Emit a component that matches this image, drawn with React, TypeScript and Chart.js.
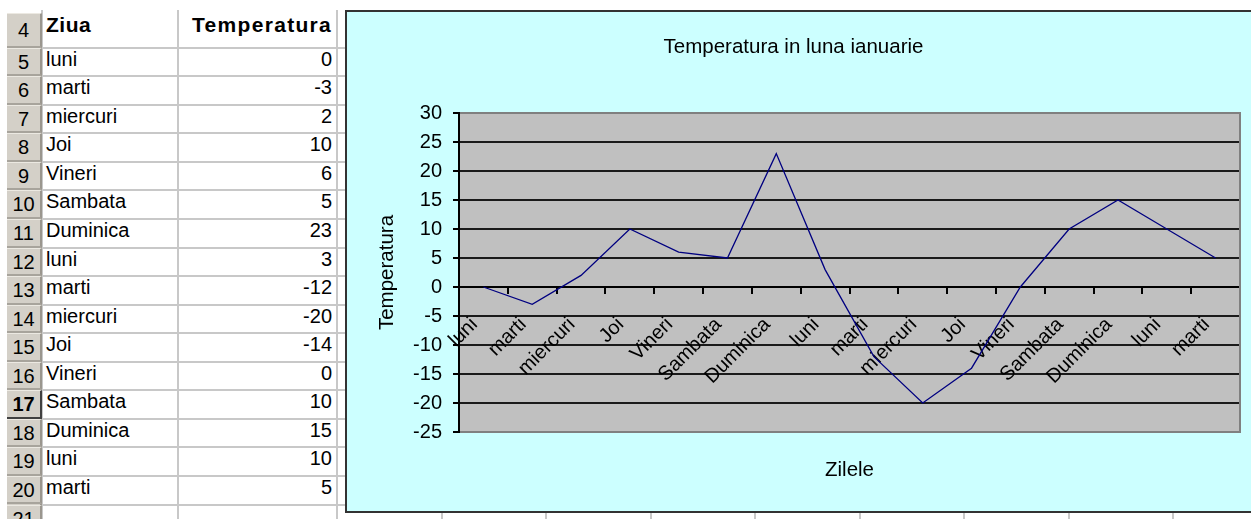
import React, { useEffect, useRef } from 'react';
import { Chart, registerables } from 'chart.js';

Chart.register(...registerables);

// ---- data ----
const days = ['luni', 'marti', 'miercuri', 'Joi', 'Vineri', 'Sambata', 'Duminica', 'luni', 'marti', 'miercuri', 'Joi', 'Vineri', 'Sambata', 'Duminica', 'luni', 'marti'];
const temperatures = [0, -3, 2, 10, 6, 5, 23, 3, -12, -20, -14, 0, 10, 15, 10, 5];
const yMin = -25;
const yMax = 30;
const yStep = 5;
const chartTitle = 'Temperatura in luna ianuarie';
const yAxisTitle = 'Temperatura';
const xAxisTitle = 'Zilele';
const headerDay = 'Ziua';
const headerTemp = 'Temperatura';
const firstRowNumber = 4;
const activeRowNumber = 17;

const FONT = "'Liberation Sans', Arial, sans-serif";

// sheet geometry
const ROW4_TOP = 13.3;
const ROW5_TOP = 47.7;
const ROW_H = 28.55;
const COL_X = [42, 178, 337, 441.5, 546, 650.5, 755, 859.5, 964, 1068.5, 1173];

function Sheet() {
  const rows: { n: number; top: number; h: number }[] = [];
  rows.push({ n: firstRowNumber, top: ROW4_TOP, h: ROW5_TOP - ROW4_TOP });
  for (let i = 0; i <= days.length; i++) {
    rows.push({ n: firstRowNumber + 1 + i, top: ROW5_TOP + i * ROW_H, h: ROW_H });
  }
  const els: React.ReactNode[] = [];
  COL_X.forEach((x, i) => {
    els.push(
      <div key={'v' + i} style={{ position: 'absolute', left: x - 1, top: 10, width: 2, height: 519, background: '#C8C8C8' }} />
    );
  });
  els.push(
    <div key="hc" style={{ position: 'absolute', left: 7, top: ROW4_TOP, width: 35, height: 519, background: '#D4D0C8', borderRight: '2px solid #9A968E', boxSizing: 'border-box' }} />
  );
  rows.forEach((r) => {
    const y = r.top;
    els.push(
      <div key={'h' + r.n} style={{ position: 'absolute', left: 42, top: y + r.h - 1, width: 1251, height: 2, background: '#C8C8C8' }} />
    );
    const active = r.n === activeRowNumber;
    els.push(
      <div
        key={'rn' + r.n}
        style={{
          position: 'absolute', left: 7, top: y, width: 35, height: r.h, boxSizing: 'border-box',
          borderTop: '1px solid #ECE9E2', borderBottom: active ? '2px solid #404040' : '2px solid #A8A49C',
          borderRight: active ? '2px solid #404040' : '2px solid #9A968E',
          font: `${active ? 'bold ' : ''}20px ${FONT}`, color: '#000', textAlign: 'center', lineHeight: r.h - 1 + 'px',
        }}
      >
        {r.n}
      </div>
    );
  });
  els.push(
    <div key="hd" style={{ position: 'absolute', left: 46, top: ROW4_TOP, height: ROW5_TOP - ROW4_TOP, lineHeight: ROW5_TOP - ROW4_TOP + 'px', font: `bold 21px ${FONT}`, letterSpacing: '0.5px' }}>{headerDay}</div>
  );
  els.push(
    <div key="ht" style={{ position: 'absolute', left: 178, width: 154, top: ROW4_TOP, height: ROW5_TOP - ROW4_TOP, lineHeight: ROW5_TOP - ROW4_TOP + 'px', textAlign: 'right', font: `bold 21px ${FONT}`, letterSpacing: '1.3px' }}>{headerTemp}</div>
  );
  days.forEach((d, i) => {
    const top = ROW5_TOP + i * ROW_H;
    els.push(
      <div key={'d' + i} style={{ position: 'absolute', left: 46, top, height: ROW_H, lineHeight: ROW_H + 'px', font: `20px ${FONT}` }}>{d}</div>
    );
    els.push(
      <div key={'t' + i} style={{ position: 'absolute', left: 178, width: 154, top, height: ROW_H, lineHeight: ROW_H + 'px', textAlign: 'right', font: `20px ${FONT}` }}>{temperatures[i]}</div>
    );
  });
  return <>{els}</>;
}

function LineChart() {
  const ref = useRef<HTMLCanvasElement>(null);
  useEffect(() => {
    if (!ref.current) return;
    const plotBg = {
      id: 'plotBg',
      beforeDraw(chart: any) {
        const { ctx, chartArea: a } = chart;
        ctx.save();
        ctx.fillStyle = '#C0C0C0';
        ctx.fillRect(a.left, a.top, a.right - a.left, a.bottom - a.top);
        ctx.restore();
      },
      beforeDatasetsDraw(chart: any) {
        const { ctx, chartArea: a } = chart;
        ctx.save();
        ctx.strokeStyle = '#808080';
        ctx.lineWidth = 2;
        ctx.beginPath();
        ctx.moveTo(a.left + 1, a.top);
        ctx.lineTo(a.right, a.top);
        ctx.lineTo(a.right, a.bottom);
        ctx.lineTo(a.left + 1, a.bottom);
        ctx.stroke();
        ctx.restore();
      },
    };
    const chart = new Chart(ref.current, {
      type: 'line',
      data: {
        labels: days,
        datasets: [
          {
            data: temperatures,
            borderColor: '#000080',
            borderWidth: 1.3,
            pointRadius: 0,
            tension: 0,
            fill: false,
          },
        ],
      },
      options: {
        animation: false,
        responsive: false,
        maintainAspectRatio: false,
        layout: { padding: { left: 0, top: 0, right: 23, bottom: 79 } },
        plugins: {
          legend: { display: false },
          tooltip: { enabled: false },
          title: {
            display: true,
            text: chartTitle,
            color: '#000',
            font: { family: FONT, size: 20.5, weight: 'normal' },
            padding: { top: 23, bottom: 53.4 },
          },
        },
        scales: {
          x: {
            type: 'category',
            position: { y: 0 },
            offset: true,
            grid: {
              offset: true,
              drawOnChartArea: false,
              drawTicks: true,
              tickLength: 6,
              color: '#000',
              lineWidth: 2,
            },
            border: { display: true, color: '#000', width: 2 },
            ticks: {
              autoSkip: false,
              minRotation: 45,
              maxRotation: 45,
              padding: 20,
              labelOffset: -9,
              color: '#000',
              font: { family: FONT, size: 20 },
            },
            title: {
              display: true,
              text: xAxisTitle,
              color: '#000',
              font: { family: FONT, size: 20.5 },
              padding: { top: 0, bottom: 4.7 },
            },
            afterFit: (s: any) => {
              s.height = 200;
            },
          },
          y: {
            min: yMin,
            max: yMax,
            ticks: {
              stepSize: yStep,
              padding: 11,
              color: '#000',
              font: { family: FONT, size: 20 },
            },
            grid: {
              color: (c: any) => (c.tick && (c.tick.value === yMax || c.tick.value === yMin) ? 'rgba(0,0,0,0)' : '#1a1a1a'),
              tickColor: '#000',
              lineWidth: 2,
              tickLength: 6,
            },
            border: { display: true, color: '#000', width: 2 },
            title: {
              display: true,
              text: yAxisTitle,
              color: '#000',
              font: { family: FONT, size: 20.5 },
              padding: { top: 27.7, bottom: 0 },
            },
            afterFit: (s: any) => {
              s.width = 112;
            },
          },
        },
      } as any,
      plugins: [plotBg],
    });
    return () => chart.destroy();
  }, []);
  return <canvas ref={ref} width={916} height={499} style={{ display: 'block', width: 916, height: 499 }} />;
}

export default function App() {
  return (
    <div style={{ position: 'fixed', left: 0, top: 0, width: 1251, height: 519, overflow: 'hidden', background: '#fff' }}>
      <Sheet />
      <div
        style={{
          position: 'absolute', left: 345, top: 10, width: 920, height: 503, boxSizing: 'border-box',
          border: '2px solid #333', background: '#CCFFFF',
        }}
      >
        <LineChart />
      </div>
    </div>
  );
}
